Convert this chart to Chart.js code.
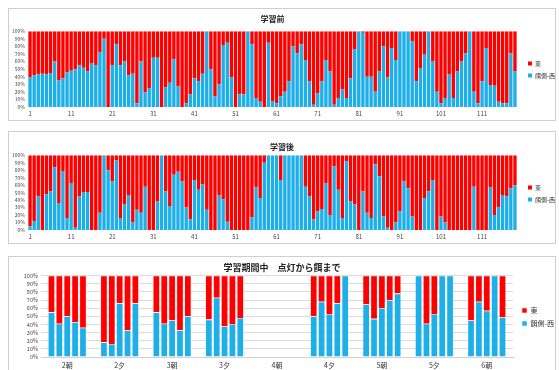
<!DOCTYPE html>
<html>
<head>
<meta charset="utf-8">
<script src="https://cdn.jsdelivr.net/npm/chart.js"></script>
<style>
  body { margin: 0; background: #fff; width: 559px; height: 370px; overflow: hidden; position: relative; }
  .panel { position: absolute; left: 8px; width: 548px; border: 1px solid #cfcfcf; box-sizing: border-box; background: #fff; }
  .panel canvas { position: absolute; left: 0; top: 0; }
</style>
</head>
<body>
<div class="panel" style="top:8px;height:113px"><canvas id="grafico1" width="546" height="111"></canvas></div>
<div class="panel" style="top:131px;height:113px"><canvas id="grafico2" width="546" height="111"></canvas></div>
<div class="panel" style="top:256px;height:122px"><canvas id="grafico3" width="546" height="120"></canvas></div>
<script>
// 東 / 餌側-西 の割合 (餌側-西 = 青の %)
var seriesNames = ['東', '餌側-西'];

// 学習前 (1..119)
var beforeWest = [
  39, 42, 43, 44, 43, 45, 60, 35, 38, 46,
  48, 50, 55, 52, 47, 58, 55, 72, 90, 0,
  55, 83, 55, 60, 42, 44, 5, 60, 19, 25,
  65, 65, 0, 26, 32, 63, 27, 0, 5, 17,
  38, 34, 44, 100, 50, 14, 30, 82, 85, 39,
  0, 17, 17, 100, 83, 12, 7, 0, 85, 8,
  5, 14, 20, 34, 80, 71, 83, 62, 34, 3,
  18, 34, 62, 47, 3, 12, 23, 12, 38, 76,
  100, 98, 40, 40, 20, 47, 80, 39, 78, 62,
  100, 100, 100, 87, 34, 51, 69, 100, 60, 20,
  5, 12, 43, 12, 47, 60, 71, 100, 20, 5,
  34, 78, 29, 28, 7, 5, 5, 71, 47
];

// 学習後 (1..119)
var afterWest = [
  5, 12, 45, 0, 48, 52, 84, 36, 79, 16,
  63, 3, 45, 51, 51, 0, 0, 23, 100, 80,
  65, 93, 16, 34, 47, 10, 27, 23, 58, 0,
  0, 38, 100, 52, 32, 74, 78, 65, 30, 14,
  67, 54, 61, 27, 0, 0, 47, 41, 11, 0,
  0, 0, 0, 0, 17, 57, 43, 90, 100, 100,
  100, 67, 100, 100, 100, 100, 100, 58, 45, 14,
  25, 28, 63, 20, 85, 54, 16, 92, 38, 34,
  0, 52, 23, 16, 88, 72, 18, 3, 0, 10,
  25, 65, 56, 18, 0, 0, 43, 52, 67, 0,
  18, 10, 0, 0, 0, 0, 0, 0, 58, 0,
  0, 0, 57, 20, 30, 47, 45, 56, 60
];

// 学習期間中 点灯から餌まで
var sessionLabels = ['2朝', '2夕', '3朝', '3夕', '4朝', '4夕', '5朝', '5夕', '6朝'];
var trial1 = [55, 18, 55, 46, null, 50, 65, 100, 45];
var trial2 = [41, 16, 41, 73, null, 68, 47, 41, 68];
var trial3 = [50, 66, 45, 38, null, 53, 60, 53, 57];
var trial4 = [43, 33, 33, 40, null, 66, 70, 100, 100];
var trial5 = [36, 66, 50, 48, null, 100, 78, 100, 49];

var RED = '#FF0000';
var BLUE = '#1FAFE8';

Chart.defaults.font.family = "'Noto Sans CJK JP', 'Noto Sans', sans-serif";
Chart.defaults.color = '#333';
Chart.defaults.animation = false;

function redOf(arr) {
  return arr.map(function (v) { return v === null ? null : 100 - v; });
}

// mueve la leyenda unos px
var legendShift = {
  id: 'legendShift',
  afterLayout: function (chart, args, opts) {
    var lg = chart.legend;
    if (!lg) return;
    lg.left += opts.dx || 0; lg.right += opts.dx || 0;
    lg.top += opts.dy || 0; lg.bottom += opts.dy || 0;
  }
};

function pctAxis(width, fontSize, grid) {
  return {
    stacked: true, min: 0, max: 100,
    border: { display: false },
    grid: { display: grid, color: '#dcdcdc', drawTicks: false },
    ticks: { stepSize: 10, autoSkip: false, padding: 3, font: { size: fontSize }, color: '#444',
      callback: function (v) { return v + '%'; } },
    afterFit: function (s) { s.width = width; }
  };
}

function bigChart(id, title, values, titlePad, titleFull, dy) {
  var labels = [];
  for (var i = 1; i <= values.length; i++) labels.push(String(i));
  new Chart(document.getElementById(id).getContext('2d'), {
    type: 'bar',
    data: {
      labels: labels,
      datasets: [
        { label: seriesNames[1], data: values, backgroundColor: BLUE, borderWidth: 0 },
        { label: seriesNames[0], data: redOf(values), backgroundColor: RED, borderWidth: 0 }
      ]
    },
    options: {
      responsive: false,
      barPercentage: 0.82,
      categoryPercentage: 1,
      layout: { padding: 0 },
      scales: {
        x: {
          stacked: true,
          border: { display: false },
          grid: { display: false, drawTicks: false },
          ticks: { autoSkip: false, maxRotation: 0, padding: 3, font: { size: 6 }, color: '#444',
            callback: function (v, i) { return i % 10 === 0 ? this.getLabelForValue(v) : ''; } },
          afterFit: function (s) { s.height = 13; }
        },
        y: pctAxis(19, 5, false)
      },
      plugins: {
        title: { display: true, text: title, fullSize: titleFull, color: '#222',
          font: { size: 8, weight: 'bold' }, padding: titlePad },
        legend: {
          position: 'right', reverse: true, maxWidth: 38,
          labels: { boxWidth: 4, boxHeight: 4, padding: 6, font: { size: 6 }, color: '#333' }
        },
        legendShift: { dx: 5, dy: dy },
        tooltip: { enabled: false }
      }
    },
    plugins: [legendShift]
  });
}

bigChart('grafico1', '学習前', beforeWest, { top: 5.5, bottom: 7.2 }, false, 5);
bigChart('grafico2', '学習後', afterWest, { top: 9.9, bottom: 3.8 }, true, 6);

// grafico 3: 5 barras por sesión
var trials = [trial1, trial2, trial3, trial4, trial5];
var ds3 = [];
trials.forEach(function (t, k) {
  ds3.push({ label: seriesNames[1], data: t, backgroundColor: BLUE, borderColor: '#e8f6fc', borderWidth: 0.6, stack: 's' + k });
  ds3.push({ label: seriesNames[0], data: redOf(t), backgroundColor: RED, borderColor: '#fde8e8', borderWidth: 0.6, stack: 's' + k });
});

new Chart(document.getElementById('grafico3').getContext('2d'), {
  type: 'bar',
  data: { labels: sessionLabels, datasets: ds3 },
  options: {
    responsive: false,
    barPercentage: 0.88,
    categoryPercentage: 0.75,
    scales: {
      x: {
        stacked: true,
        border: { display: true, color: '#d0d0d0' },
        grid: { display: false, drawTicks: false },
        ticks: { padding: 4, font: { size: 7 }, color: '#333' },
        afterFit: function (s) { s.height = 20; }
      },
      y: pctAxis(32, 5.5, true)
    },
    plugins: {
      title: { display: true, text: '学習期間中　点灯から餌まで', fullSize: true, color: '#222',
        font: { size: 9, weight: 'bold' }, padding: { top: 5.3, bottom: 2.6 } },
      legend: {
        position: 'right', reverse: true, maxWidth: 42,
        labels: { boxWidth: 5, boxHeight: 5, padding: 6, font: { size: 7 }, color: '#333',
          filter: function (item) { return item.datasetIndex < 2; } }
      },
      legendShift: { dx: 3, dy: 0 },
      tooltip: { enabled: false }
    }
  },
  plugins: [legendShift]
});
</script>
</body>
</html>
